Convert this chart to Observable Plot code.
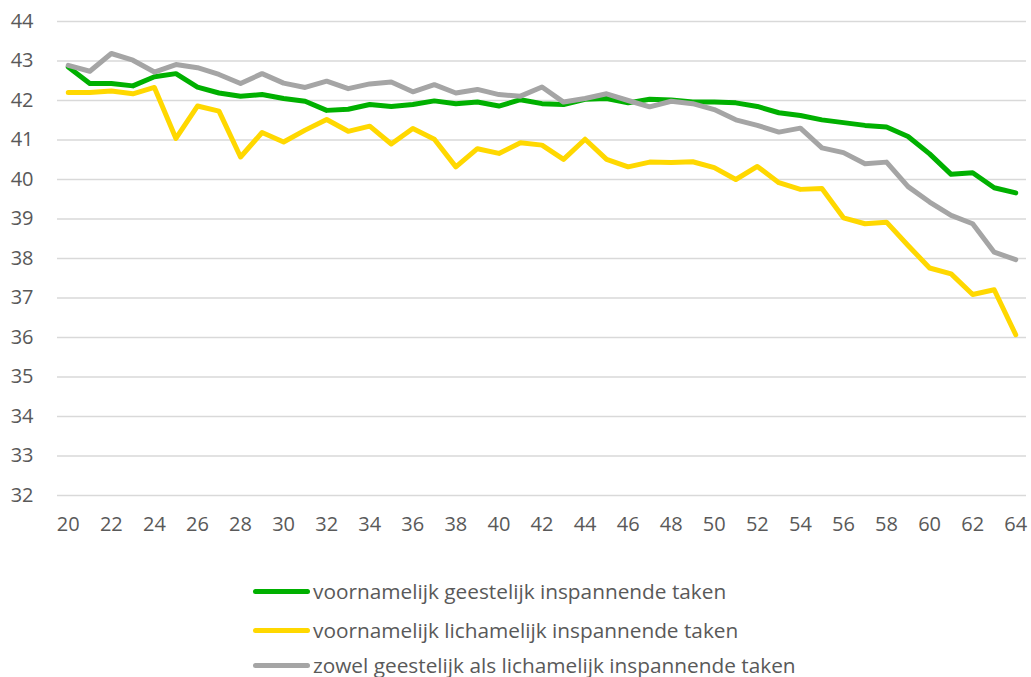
<!DOCTYPE html>
<html>
<head>
<meta charset="utf-8">
<script src="https://cdn.jsdelivr.net/npm/d3@7"></script>
<script src="https://cdn.jsdelivr.net/npm/@observablehq/plot@0.6"></script>
<style>
  html, body { margin: 0; padding: 0; background: #fff; overflow: hidden; }
  #wrap { position: relative; width: 1031px; height: 677px; font-family: "Open Sans", sans-serif; }
  #legend { position: absolute; left: 0; top: 0; }
  .item { position: absolute; left: 253px; height: 30px; display: flex; align-items: center; white-space: nowrap; }
  .swatch { width: 57px; height: 5px; border-radius: 3px; margin-right: 3px; }
  .label { font-size: 20.8px; color: #595959; }
</style>
</head>
<body>
<div id="wrap"><div id="chart"></div><div id="legend"></div></div>
<script>
const ages = [20,21,22,23,24,25,26,27,28,29,30,31,32,33,34,35,36,37,38,39,40,41,42,43,44,45,46,47,48,49,50,51,52,53,54,55,56,57,58,59,60,61,62,63,64];
const seriesNames = [
  "voornamelijk geestelijk inspannende taken",
  "voornamelijk lichamelijk inspannende taken",
  "zowel geestelijk als lichamelijk inspannende taken"
];
const seriesColors = ["#00b000", "#ffd800", "#a5a5a5"];
const geestelijk = [42.85,42.43,42.43,42.37,42.6,42.68,42.34,42.19,42.11,42.15,42.05,41.98,41.75,41.78,41.9,41.85,41.9,41.99,41.92,41.96,41.86,42.02,41.92,41.9,42.03,42.05,41.94,42.03,42.01,41.96,41.96,41.94,41.85,41.69,41.62,41.51,41.44,41.37,41.33,41.09,40.65,40.13,40.17,39.79,39.66];
const lichamelijk = [42.2,42.2,42.24,42.17,42.33,41.04,41.86,41.73,40.57,41.19,40.95,41.25,41.52,41.22,41.35,40.9,41.29,41.02,40.32,40.78,40.66,40.93,40.87,40.51,41.02,40.51,40.32,40.44,40.43,40.45,40.3,40.0,40.33,39.92,39.75,39.77,39.03,38.88,38.92,38.33,37.76,37.61,37.09,37.21,36.07];
const beide = [42.89,42.74,43.19,43.02,42.72,42.91,42.83,42.66,42.43,42.68,42.44,42.33,42.49,42.3,42.42,42.47,42.22,42.4,42.19,42.28,42.15,42.11,42.34,41.96,42.05,42.17,42.0,41.84,41.98,41.92,41.77,41.51,41.37,41.2,41.3,40.8,40.68,40.4,40.44,39.82,39.43,39.09,38.88,38.16,37.97];
const xTicks = [20,22,24,26,28,30,32,34,36,38,40,42,44,46,48,50,52,54,56,58,60,62,64];
const yTicks = [32,33,34,35,36,37,38,39,40,41,42,43,44];

const allSeries = [geestelijk, lichamelijk, beide];
const rows = [];
allSeries.forEach((vals, s) => vals.forEach((v, i) => rows.push({age: ages[i], value: v, series: seriesNames[s]})));

const chart = Plot.plot({
  width: 1031,
  height: 545,
  marginTop: 21,
  marginBottom: 50,
  marginLeft: 57,
  marginRight: 5,
  style: { fontFamily: "Open Sans, sans-serif", fontSize: "20px", color: "#595959", background: "#fff" },
  x: { domain: [19.5, 64.5], label: null },
  y: { domain: [32, 44], label: null },
  color: { domain: seriesNames, range: seriesColors },
  marks: [
    Plot.gridY(yTicks, { stroke: "#d9d9d9", strokeOpacity: 1, strokeWidth: 1.5 }),
    Plot.axisX({ ticks: xTicks, tickSize: 0, tickPadding: 21, label: null, fill: "#595959", tickFormat: d => String(d) }),
    Plot.axisY({ ticks: yTicks, tickSize: 0, tickPadding: 24, label: null, fill: "#595959" }),
    Plot.line(rows, { x: "age", y: "value", z: "series", stroke: "series", strokeWidth: 5, strokeLinejoin: "round", strokeLinecap: "round" })
  ]
});
document.getElementById("chart").appendChild(chart);

const legend = document.getElementById("legend");
const legendTops = [576, 615, 650];
seriesNames.forEach((name, i) => {
  const item = document.createElement("div");
  item.className = "item";
  item.style.top = legendTops[i] + "px";
  const sw = document.createElement("div");
  sw.className = "swatch";
  sw.style.background = seriesColors[i];
  const lb = document.createElement("span");
  lb.className = "label";
  lb.textContent = name;
  item.appendChild(sw);
  item.appendChild(lb);
  legend.appendChild(item);
});
</script>
</body>
</html>
